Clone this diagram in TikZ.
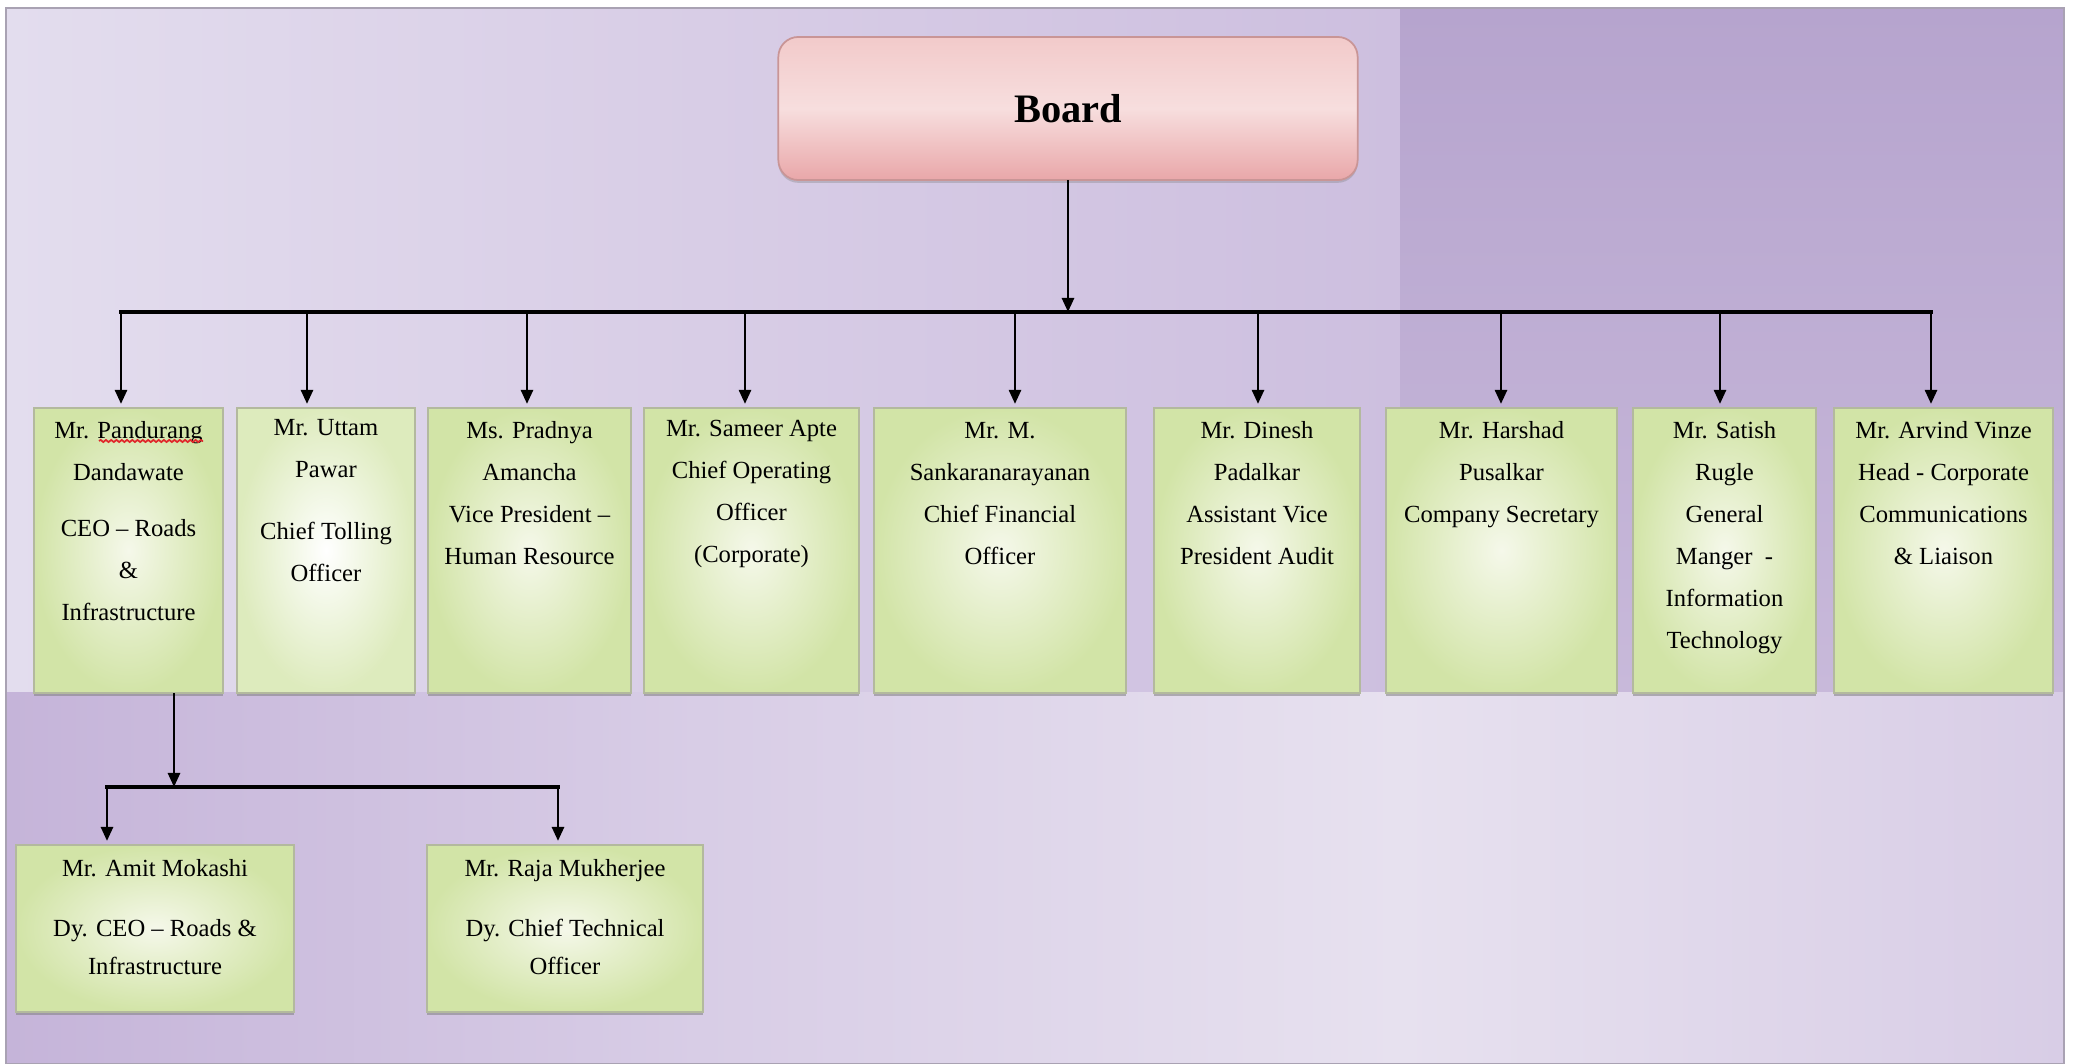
\documentclass[tikz,border=0pt]{standalone}
\usepackage{fontspec}
\setmainfont{Liberation Serif}
\usetikzlibrary{arrows.meta,shadows,decorations.pathmorphing}

\definecolor{lavlight}{HTML}{E3DDEE}
\definecolor{lavmid}{HTML}{D8CDE6}
\definecolor{lavdeep}{HTML}{CDBFDF}
\definecolor{purpletop}{HTML}{B6A4CE}
\definecolor{purplelow}{HTML}{C8B9DA}
\definecolor{purpleside}{HTML}{C5B4D9}
\definecolor{lavpale}{HTML}{E7E1EF}
\definecolor{framegray}{HTML}{A9A2B3}
\definecolor{cardgreen}{HTML}{D2E4A7}
\definecolor{cardlight}{HTML}{F5F8EA}
\definecolor{cardedge}{HTML}{B3B99E}
\definecolor{boardtop}{HTML}{F2CACA}
\definecolor{boardmid}{HTML}{F7DEDE}
\definecolor{boardbot}{HTML}{E9A7A9}
\definecolor{boardedge}{HTML}{C99596}
\definecolor{spellred}{HTML}{E0262A}

\begin{document}
\begin{tikzpicture}[x=0.01cm,y=-0.01cm,
  card/.style={rectangle, inner sep=0pt, outer sep=0pt, draw=cardedge,
    line width=0.4pt, inner color=cardlight, outer color=cardgreen,
    drop shadow={shadow xshift=0pt, shadow yshift=-0.9pt, opacity=0.55}},
  cardtext/.style={anchor=north, inner sep=0pt, align=center,
    font=\fontsize{7}{11.95}\selectfont, text=black},
  subtext/.style={anchor=north, inner sep=0pt, align=center,
    font=\fontsize{7}{10.8}\selectfont, text=black},
  boardbox/.style={rectangle, rounded corners=0.2cm, inner sep=0pt, outer sep=0pt,
    draw=boardedge, line width=0.5pt, top color=boardtop, bottom color=boardbot,
    middle color=boardmid,
    drop shadow={shadow xshift=0pt, shadow yshift=-0.8pt, opacity=0.35},
    font=\fontsize{11.5}{14}\selectfont\bfseries},
  bus/.style={line width=1.3pt, line cap=rect},
  subbus/.style={line width=0.9pt, line cap=rect},
  conn/.style={line width=0.75pt, -{Triangle[length=1.4mm,width=1.2mm]}, shorten >=0.4mm},
  tapconn/.style={line width=0.75pt, -{Triangle[length=1.4mm,width=1.2mm]}},
  spellwave/.style={spellred, line width=0.5pt,
    decorate, decoration={snake, amplitude=0.3pt, segment length=1.5pt}}
]
\useasboundingbox (0,0) rectangle (2075,1064);
\fill[white] (0,0) rectangle (2075,1064);

% backdrop panels
\shade[left color=lavlight, right color=lavdeep, middle color=lavmid]
  (6,8) rectangle (1400,693);
\shade[top color=purpletop, bottom color=purplelow] (1400,8) rectangle (2064,693);
\shade[left color=purpleside, right color=lavmid] (6,693) rectangle (700,1064);
\shade[left color=lavmid, right color=lavpale] (700,693) rectangle (1400,1064);
\shade[left color=lavpale, right color=lavmid] (1400,693) rectangle (2064,1064);
\draw[framegray, line width=0.6pt] (6,8) rectangle (2064,1064);

% board
\node[boardbox, minimum width=5.79cm, minimum height=1.43cm] (board) at (1068,108.5) {Board};

% first level
\node[card, minimum width=1.89cm, minimum height=2.85cm] (b1) at (128.5,550.5) {};
\node[card, minimum width=1.78cm, minimum height=2.85cm, inner color=white, outer color=cardgreen!75!white] (b2) at (326,550.5) {};
\node[card, minimum width=2.03cm, minimum height=2.85cm] (b3) at (529.5,550.5) {};
\node[card, minimum width=2.15cm, minimum height=2.85cm] (b4) at (751.5,550.5) {};
\node[card, minimum width=2.52cm, minimum height=2.85cm] (b5) at (1000,550.5) {};
\node[card, minimum width=2.06cm, minimum height=2.85cm] (b6) at (1257,550.5) {};
\node[card, minimum width=2.31cm, minimum height=2.85cm] (b7) at (1501.5,550.5) {};
\node[card, minimum width=1.83cm, minimum height=2.85cm] (b8) at (1724.5,550.5) {};
\node[card, minimum width=2.19cm, minimum height=2.85cm] (b9) at (1943.5,550.5) {};

\node[cardtext] (t1) at (128.5,421) {Mr. Pandurang\\Dandawate\\[4pt]CEO -- Roads\\\&\\Infrastructure};
\node[cardtext] (t2) at (326,419) {Mr. Uttam\\Pawar\\[5.7pt]Chief Tolling\\Officer};
\node[cardtext] (t3) at (529.5,421) {Ms. Pradnya\\Amancha\\Vice President --\\Human Resource};
\node[cardtext] (t4) at (751.5,419) {Mr. Sameer Apte\\Chief Operating\\Officer\\(Corporate)};
\node[cardtext] (t5) at (1000,422) {Mr. M.\\Sankaranarayanan\\Chief Financial\\Officer};
\node[cardtext] (t6) at (1257,421) {Mr. Dinesh\\Padalkar\\Assistant Vice\\President Audit};
\node[cardtext] (t7) at (1501.5,421) {Mr. Harshad\\Pusalkar\\Company Secretary};
\node[cardtext] (t8) at (1724.5,421) {Mr. Satish\\Rugle\\General\\Manger\ \ -\\Information\\Technology};
\node[cardtext] (t9) at (1943.5,421) {Mr. Arvind Vinze\\Head - Corporate\\Communications\\\& Liaison};

% spell-check mark under the surname
\draw[spellwave] (99,441) -- (203,441);

% second level
\node[card, minimum width=2.78cm, minimum height=1.67cm] (c1) at (155,928.5) {};
\node[card, minimum width=2.76cm, minimum height=1.67cm] (c2) at (565,928.5) {};
\node[subtext] (s1) at (155,859) {Mr. Amit Mokashi\\[6.2pt]Dy. CEO -- Roads \&\\Infrastructure};
\node[subtext] (s2) at (565,859) {Mr. Raja Mukherjee\\[6.2pt]Dy. Chief Technical\\Officer};

% distribution bar under the board
\coordinate (tap1) at (121,312);
\coordinate (tap2) at (307,312);
\coordinate (tap3) at (527,312);
\coordinate (tap4) at (745,312);
\coordinate (tap5) at (1015,312);
\coordinate (tap6) at (1258,312);
\coordinate (tap7) at (1501,312);
\coordinate (tap8) at (1720,312);
\coordinate (tap9) at (1931,312);

\draw[bus] (tap1) -- (tap9);
\draw[tapconn] (board.south) -- (board.south |- tap1);
\foreach \i in {1,...,9}{
  \draw[conn] (tap\i) -- (tap\i |- b\i.north);
}

% branch under the CEO
\coordinate (sub) at (174,787);
\coordinate (subL) at (107,787);
\coordinate (subR) at (558,787);
\draw[subbus] (subL) -- (subR);
\draw[tapconn] (sub |- b1.south) -- (sub);
\draw[conn] (subL) -- (subL |- c1.north);
\draw[conn] (subR) -- (subR |- c2.north);
\end{tikzpicture}
\end{document}
